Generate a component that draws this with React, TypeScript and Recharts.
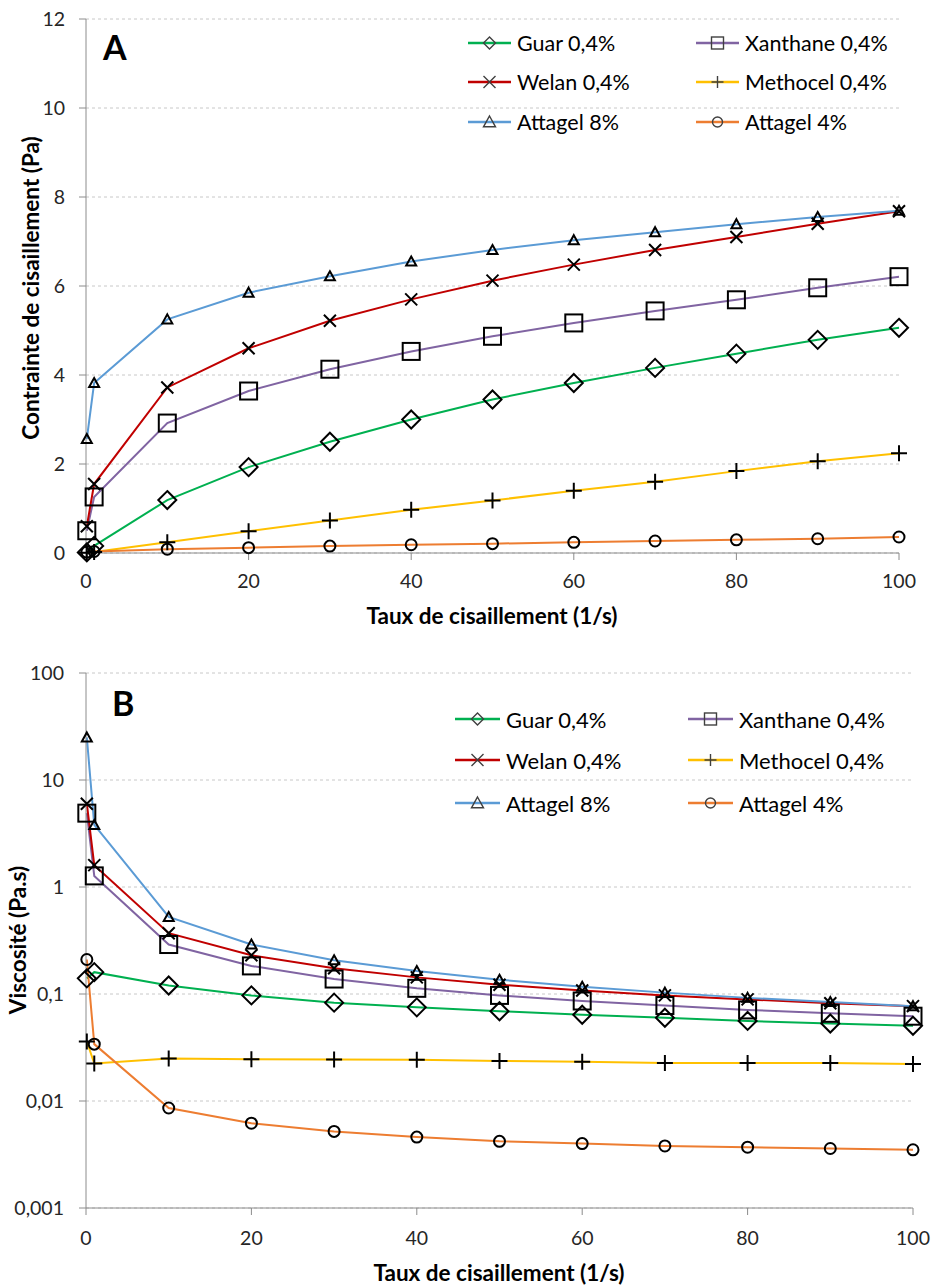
import React from "react";
import { LineChart, Line, XAxis, YAxis, CartesianGrid, Legend, Label } from "recharts";

// shear rate (1/s)
const shearRates = [0.1, 1, 10, 20, 30, 40, 50, 60, 70, 80, 90, 100];

// A — shear stress (Pa)
const guarStress = [0.014, 0.16, 1.19, 1.93, 2.5, 3.0, 3.45, 3.82, 4.16, 4.48, 4.79, 5.06];
const xanthaneStress = [0.5, 1.26, 2.92, 3.64, 4.13, 4.53, 4.87, 5.17, 5.44, 5.69, 5.96, 6.21];
const welanStress = [0.6, 1.55, 3.72, 4.6, 5.22, 5.7, 6.12, 6.48, 6.81, 7.1, 7.4, 7.68];
const methocelStress = [0.004, 0.022, 0.24, 0.49, 0.73, 0.97, 1.18, 1.4, 1.6, 1.84, 2.06, 2.24];
const attagel8Stress = [2.56, 3.82, 5.25, 5.85, 6.22, 6.55, 6.81, 7.03, 7.21, 7.39, 7.55, 7.69];
const attagel4Stress = [0.021, 0.034, 0.085, 0.12, 0.155, 0.185, 0.21, 0.24, 0.27, 0.295, 0.32, 0.36];

// B — viscosity (Pa.s)
const guarVisc = [0.14, 0.16, 0.12, 0.097, 0.083, 0.075, 0.069, 0.064, 0.06, 0.056, 0.053, 0.0505];
const xanthaneVisc = [4.9, 1.27, 0.29, 0.183, 0.138, 0.113, 0.097, 0.086, 0.078, 0.071, 0.066, 0.062];
const welanVisc = [6.0, 1.6, 0.37, 0.23, 0.174, 0.143, 0.122, 0.108, 0.097, 0.089, 0.082, 0.077];
const methocelVisc = [0.036, 0.0224, 0.025, 0.0245, 0.0244, 0.0243, 0.0237, 0.0233, 0.0227, 0.0227, 0.0226, 0.0222];
const attagel8Visc = [25, 3.8, 0.525, 0.29, 0.207, 0.164, 0.136, 0.117, 0.103, 0.092, 0.084, 0.077];
const attagel4Visc = [0.21, 0.034, 0.0086, 0.0062, 0.0052, 0.0046, 0.0042, 0.004, 0.0038, 0.0037, 0.0036, 0.0035];

const stressTicks = [0, 2, 4, 6, 8, 10, 12];
const viscTicks = [0.001, 0.01, 0.1, 1, 10, 100];
const rateTicks = [0, 20, 40, 60, 80, 100];

type Shape = "diamond" | "square" | "x" | "plus" | "triangle" | "circle";

const SERIES: { key: string; name: string; color: string; shape: Shape }[] = [
  { key: "guar", name: "Guar 0,4%", color: "#00b050", shape: "diamond" },
  { key: "xanthane", name: "Xanthane 0,4%", color: "#8064a2", shape: "square" },
  { key: "welan", name: "Welan 0,4%", color: "#c00000", shape: "x" },
  { key: "methocel", name: "Methocel 0,4%", color: "#ffc000", shape: "plus" },
  { key: "attagel8", name: "Attagel 8%", color: "#5b9bd5", shape: "triangle" },
  { key: "attagel4", name: "Attagel 4%", color: "#ed7d31", shape: "circle" },
];

const stressData = shearRates.map((x, i) => ({
  x,
  guar: guarStress[i],
  xanthane: xanthaneStress[i],
  welan: welanStress[i],
  methocel: methocelStress[i],
  attagel8: attagel8Stress[i],
  attagel4: attagel4Stress[i],
}));

const viscData = shearRates.map((x, i) => ({
  x,
  guar: guarVisc[i],
  xanthane: xanthaneVisc[i],
  welan: welanVisc[i],
  methocel: methocelVisc[i],
  attagel8: attagel8Visc[i],
  attagel4: attagel4Visc[i],
}));

const FONT = "Lato, 'Open Sans', sans-serif";
const AXIS = "#8c8c8c";
const GRID = "#c8c8c8";
const TICK = { fontSize: 19.5, fill: "#262626", fontFamily: FONT };
const TITLE_SIZE = 22.5;

const SIZES: Record<Shape, number> = {
  diamond: 9,
  square: 8.5,
  x: 6,
  plus: 8,
  triangle: 5,
  circle: 5.5,
};

function MarkerShape({
  cx,
  cy,
  shape,
  r,
  stroke = "#000",
  sw = 2,
}: {
  cx: number;
  cy: number;
  shape: Shape;
  r: number;
  stroke?: string;
  sw?: number;
}) {
  const p = { fill: "none", stroke, strokeWidth: sw };
  switch (shape) {
    case "diamond":
      return <path d={`M${cx},${cy - r}L${cx + r},${cy}L${cx},${cy + r}L${cx - r},${cy}Z`} {...p} />;
    case "square":
      return <rect x={cx - r} y={cy - r} width={2 * r} height={2 * r} {...p} />;
    case "x":
      return <path d={`M${cx - r},${cy - r}L${cx + r},${cy + r}M${cx - r},${cy + r}L${cx + r},${cy - r}`} {...p} />;
    case "plus":
      return <path d={`M${cx - r},${cy}L${cx + r},${cy}M${cx},${cy - r}L${cx},${cy + r}`} {...p} />;
    case "triangle":
      return <path d={`M${cx},${cy - r}L${cx + r},${cy + r * 0.8}L${cx - r},${cy + r * 0.8}Z`} {...p} />;
    default:
      return <circle cx={cx} cy={cy} r={r} {...p} />;
  }
}

function makeDot(shape: Shape, key: string) {
  return (props: any) => {
    if (props.cx == null || props.cy == null) return <g key={`${key}-${props.index}`} />;
    return (
      <g key={`${key}-${props.index}`}>
        <MarkerShape cx={props.cx} cy={props.cy} shape={shape} r={SIZES[shape]} />
      </g>
    );
  };
}

function LegendBox({ rows, cols, lineW, fontSize }: { rows: number[]; cols: number[]; lineW: number; fontSize: number }) {
  return (
    <div style={{ position: "relative", width: 936, height: 200 }}>
      {SERIES.map((s, i) => {
        const left = cols[i % 2];
        const top = rows[Math.floor(i / 2)];
        return (
          <div
            key={s.key}
            style={{
              position: "absolute",
              left,
              top: top - 15,
              height: 30,
              display: "flex",
              alignItems: "center",
              fontFamily: FONT,
              fontSize,
              color: "#000",
              whiteSpace: "nowrap",
            }}
          >
            <svg width={lineW} height={30} style={{ marginRight: 6 }}>
              <line x1={0} y1={15} x2={lineW} y2={15} stroke={s.color} strokeWidth={2.5} />
              <MarkerShape cx={lineW / 2} cy={15} shape={s.shape} r={s.shape === "circle" ? 5 : 6} stroke="#404040" sw={1.4} />
            </svg>
            {s.name}
          </div>
        );
      })}
    </div>
  );
}

const fmtFr = (v: number) => String(v).replace(".", ",");

export default function App() {
  return (
    <div style={{ position: "absolute", left: 0, top: 0, width: 936, height: 1286, background: "#fff" }}>
      {/* A */}
      <div style={{ position: "absolute", left: 0, top: 0 }}>
        <LineChart width={936} height={640} data={stressData} margin={{ top: 19, right: 37, left: 0, bottom: 0 }}>
          <CartesianGrid vertical={false} stroke={GRID} strokeDasharray="3 3" />
          <XAxis
            dataKey="x"
            type="number"
            domain={[0, 100]}
            ticks={rateTicks}
            height={87}
            stroke={AXIS}
            tickSize={7}
            tickMargin={14}
            tick={TICK}
          >
            <Label
              content={() => (
                <text x={492} y={615} textAnchor="middle" dominantBaseline="central" fontFamily={FONT} fontSize={TITLE_SIZE} fontWeight={700} fill="#000">
                  Taux de cisaillement (1/s)
                </text>
              )}
            />
          </XAxis>
          <YAxis
            type="number"
            domain={[0, 12]}
            ticks={stressTicks}
            width={86}
            stroke={AXIS}
            tickSize={7}
            tickMargin={14}
            tick={TICK}
          >
            <Label
              content={() => (
                <text x={30} y={288} transform="rotate(-90 30 288)" textAnchor="middle" dominantBaseline="central" fontFamily={FONT} fontSize={TITLE_SIZE} fontWeight={700} fill="#000">
                  Contrainte de cisaillement (Pa)
                </text>
              )}
            />
          </YAxis>
          <Legend
            layout="horizontal"
            verticalAlign="middle"
            align="center"
            wrapperStyle={{ left: 0, top: 0, width: 936, height: 200 }}
            content={() => <LegendBox rows={[43, 82, 122]} cols={[468, 696]} lineW={43} fontSize={21.5} />}
          />
          {SERIES.map((s) => (
            <Line
              key={s.key}
              type="linear"
              dataKey={s.key}
              name={s.name}
              stroke={s.color}
              strokeWidth={2}
              dot={makeDot(s.shape, "a" + s.key)}
              activeDot={false}
              isAnimationActive={false}
            />
          ))}
        </LineChart>
        <div style={{ position: "absolute", left: 103, top: 27, fontFamily: FONT, fontWeight: 700, fontSize: 34, lineHeight: "40px", color: "#000" }}>
          A
        </div>
      </div>

      {/* B */}
      <div style={{ position: "absolute", left: 0, top: 640 }}>
        <LineChart width={936} height={646} data={viscData} margin={{ top: 33, right: 23, left: 0, bottom: 0 }}>
          <CartesianGrid vertical={false} stroke={GRID} strokeDasharray="3 3" />
          <XAxis
            dataKey="x"
            type="number"
            domain={[0, 100]}
            ticks={rateTicks}
            height={78}
            stroke={AXIS}
            tickSize={7}
            tickMargin={16}
            tick={TICK}
          >
            <Label
              content={() => (
                <text x={499} y={632} textAnchor="middle" dominantBaseline="central" fontFamily={FONT} fontSize={TITLE_SIZE} fontWeight={700} fill="#000">
                  Taux de cisaillement (1/s)
                </text>
              )}
            />
          </XAxis>
          <YAxis
            type="number"
            scale="log"
            domain={[0.001, 100]}
            allowDataOverflow
            ticks={viscTicks}
            tickFormatter={fmtFr}
            width={86}
            stroke={AXIS}
            tickSize={7}
            tickMargin={15}
            tick={TICK}
          >
            <Label
              content={() => (
                <text x={17} y={300} transform="rotate(-90 17 300)" textAnchor="middle" dominantBaseline="central" fontFamily={FONT} fontSize={TITLE_SIZE} fontWeight={700} fill="#000">
                  Viscosité (Pa.s)
                </text>
              )}
            />
          </YAxis>
          <Legend
            layout="horizontal"
            verticalAlign="middle"
            align="center"
            wrapperStyle={{ left: 0, top: 0, width: 936, height: 200 }}
            content={() => <LegendBox rows={[79, 120, 163]} cols={[455, 688]} lineW={45} fontSize={22} />}
          />
          {SERIES.map((s) => (
            <Line
              key={s.key}
              type="linear"
              dataKey={s.key}
              name={s.name}
              stroke={s.color}
              strokeWidth={2}
              dot={makeDot(s.shape, "b" + s.key)}
              activeDot={false}
              isAnimationActive={false}
            />
          ))}
        </LineChart>
        <div style={{ position: "absolute", left: 112, top: 43, fontFamily: FONT, fontWeight: 700, fontSize: 34, lineHeight: "40px", color: "#000" }}>
          B
        </div>
      </div>
    </div>
  );
}
